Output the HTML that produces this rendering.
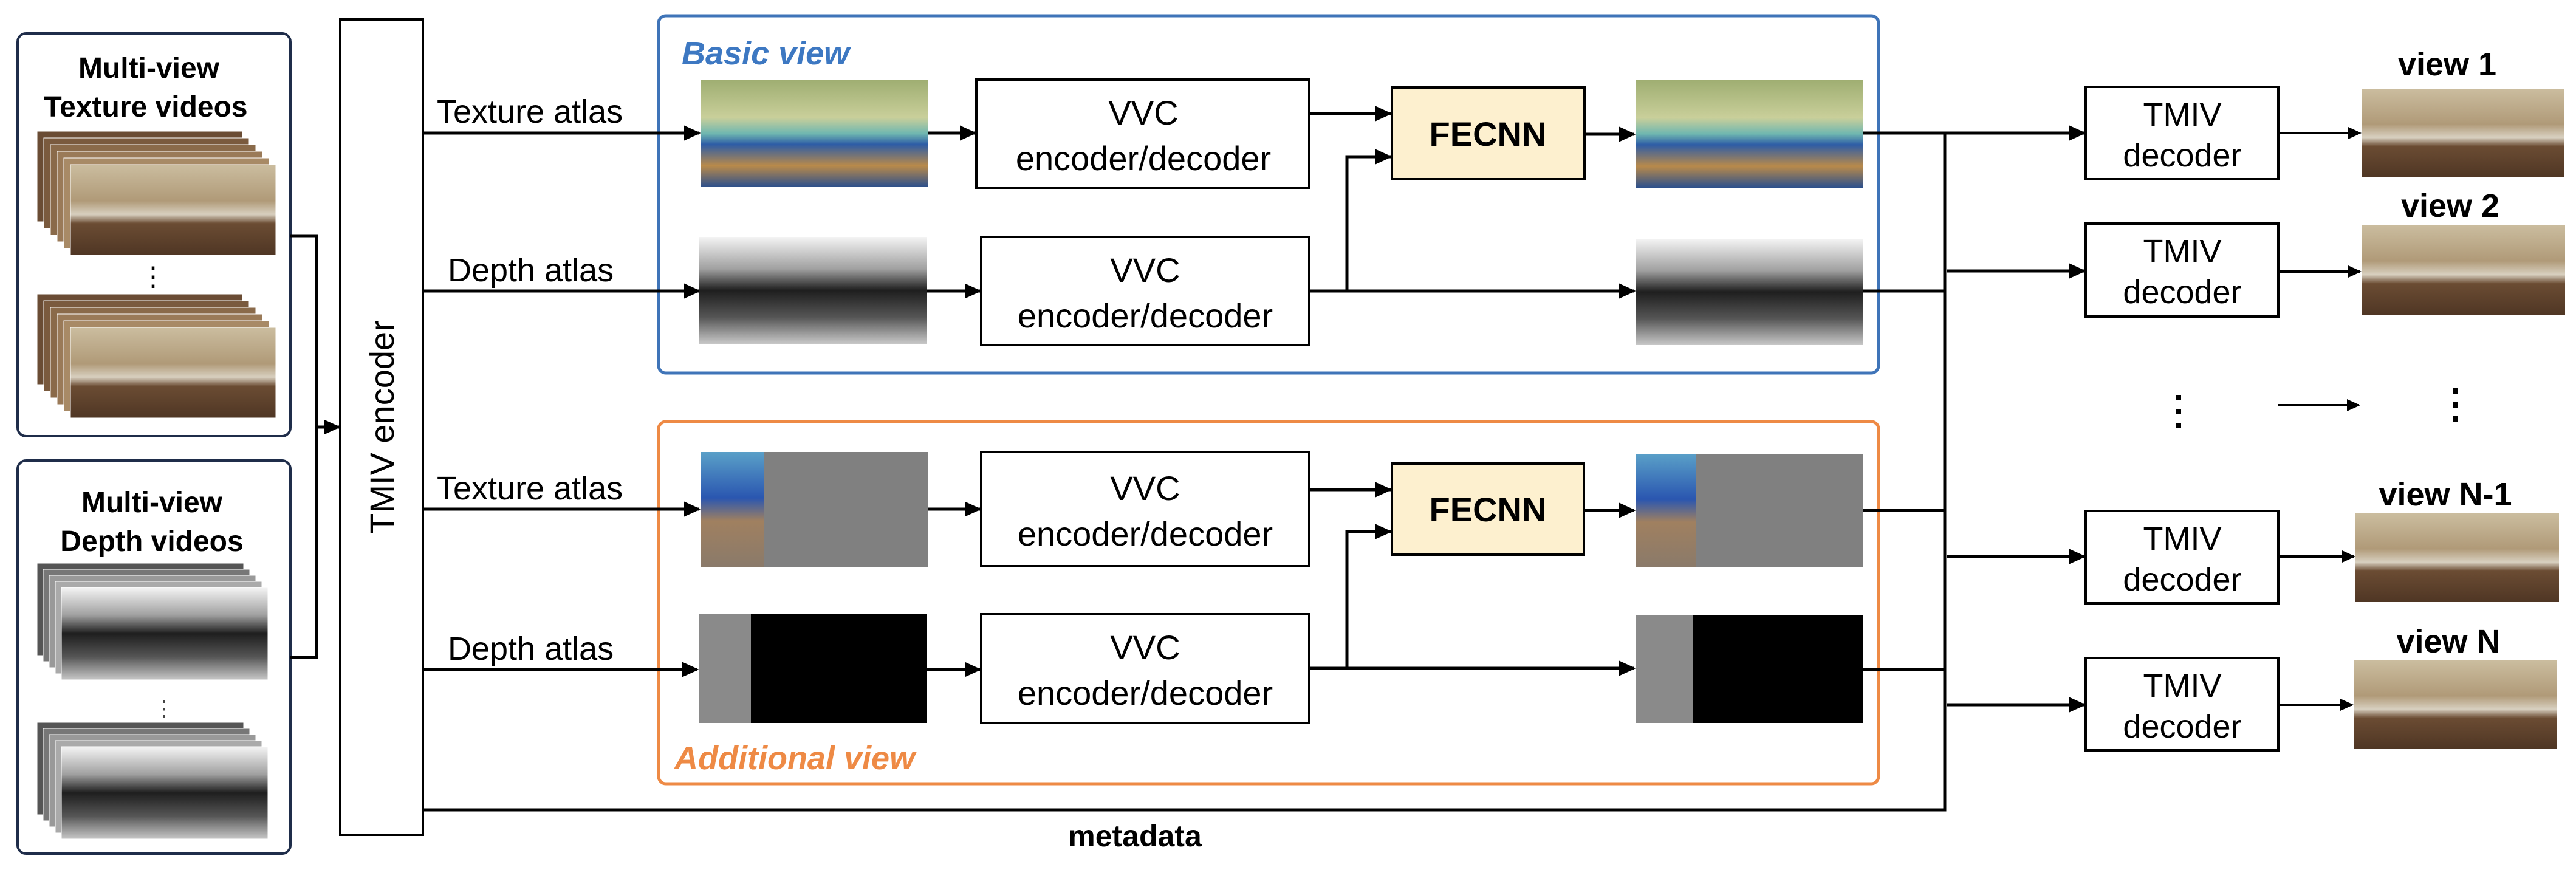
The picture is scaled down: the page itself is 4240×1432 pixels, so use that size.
<!DOCTYPE html>
<html><head><meta charset="utf-8"><style>
html,body{margin:0;padding:0;background:#fff;}
svg{display:block;}
text{font-family:"Liberation Sans",Arial,sans-serif;}
</style></head><body>
<svg width="4240" height="1432" viewBox="0 0 4240 1432" xmlns="http://www.w3.org/2000/svg">
<defs>
<marker id="ah" markerWidth="5.5" markerHeight="5" refX="5" refY="2.5" orient="auto" markerUnits="strokeWidth">
<path d="M0,0 L5.5,2.5 L0,5 z" fill="#000"/></marker>
<linearGradient id="room" x1="0" y1="0" x2="0" y2="1">
<stop offset="0" stop-color="#cbbd9f"/><stop offset="0.4" stop-color="#b09a78"/><stop offset="0.55" stop-color="#d8d0c0"/><stop offset="0.65" stop-color="#6b4c33"/><stop offset="1" stop-color="#4f3624"/></linearGradient>
<linearGradient id="btex" x1="0" y1="0" x2="0" y2="1">
<stop offset="0" stop-color="#9fae72"/><stop offset="0.35" stop-color="#c9cf9a"/><stop offset="0.5" stop-color="#6fb7b0"/><stop offset="0.6" stop-color="#2d5ca6"/><stop offset="0.8" stop-color="#b98a4a"/><stop offset="1" stop-color="#2b4f8c"/></linearGradient>
<linearGradient id="dep" x1="0" y1="0" x2="0" y2="1">
<stop offset="0" stop-color="#f4f4f4"/><stop offset="0.3" stop-color="#a0a0a0"/><stop offset="0.5" stop-color="#1e1e1e"/><stop offset="0.75" stop-color="#555"/><stop offset="1" stop-color="#c8c8c8"/></linearGradient>
<linearGradient id="strip" x1="0" y1="0" x2="0" y2="1">
<stop offset="0" stop-color="#5aa0c8"/><stop offset="0.4" stop-color="#2a56b0"/><stop offset="0.6" stop-color="#a08060"/><stop offset="1" stop-color="#8a7a6a"/></linearGradient>
</defs>

<rect x="29" y="55" width="449" height="663" rx="14" fill="none" stroke="#1f2d4a" stroke-width="4"/>
<text x="245" y="128" font-size="48" font-weight="bold" text-anchor="middle">Multi-view</text>
<text x="240" y="192" font-size="48" font-weight="bold" text-anchor="middle">Texture videos</text>
<g stroke="#fff" stroke-width="1">
<rect x="61" y="216" width="338" height="149" fill="#6a4c34"/>
<rect x="72" y="227" width="338" height="149" fill="#7a5a3e"/>
<rect x="83" y="238" width="338" height="149" fill="#8a6a4a"/>
<rect x="94" y="249" width="338" height="149" fill="#9a7a58"/>
<rect x="105" y="260" width="338" height="149" fill="#a88a66"/>
<rect x="116" y="271" width="338" height="149" fill="url(#room)"/>
<rect x="61" y="484" width="338" height="149" fill="#6a4c34"/>
<rect x="72" y="495" width="338" height="149" fill="#7a5a3e"/>
<rect x="83" y="506" width="338" height="149" fill="#8a6a4a"/>
<rect x="94" y="517" width="338" height="149" fill="#9a7a58"/>
<rect x="105" y="528" width="338" height="149" fill="#a88a66"/>
<rect x="116" y="539" width="338" height="149" fill="url(#room)"/>
</g>
<text x="252" y="470" font-size="44" text-anchor="middle">⋮</text>

<rect x="29" y="758" width="449" height="647" rx="14" fill="none" stroke="#1f2d4a" stroke-width="4"/>
<text x="250" y="843" font-size="48" font-weight="bold" text-anchor="middle">Multi-view</text>
<text x="250" y="907" font-size="48" font-weight="bold" text-anchor="middle">Depth videos</text>
<g stroke="#fff" stroke-width="1">
<rect x="61" y="927" width="340" height="152" fill="#555"/>
<rect x="71" y="937" width="340" height="152" fill="#777"/>
<rect x="81" y="947" width="340" height="152" fill="#999"/>
<rect x="91" y="957" width="340" height="152" fill="#aaa"/>
<rect x="101" y="967" width="340" height="152" fill="url(#dep)"/>
<rect x="61" y="1189" width="340" height="152" fill="#555"/>
<rect x="71" y="1199" width="340" height="152" fill="#777"/>
<rect x="81" y="1209" width="340" height="152" fill="#999"/>
<rect x="91" y="1219" width="340" height="152" fill="#aaa"/>
<rect x="101" y="1229" width="340" height="152" fill="url(#dep)"/>
</g>
<text x="270" y="1178" font-size="36" text-anchor="middle" fill="#444">⋮</text>

<g stroke="#000" stroke-width="5" fill="none">
<polyline points="478,388 521,388 521,1082 478,1082"/>
<line x1="521" y1="703" x2="558" y2="703" marker-end="url(#ah)"/>
</g>
<rect x="560" y="32" width="136" height="1342" fill="#fff" stroke="#000" stroke-width="4"/>
<text transform="translate(648,703) rotate(-90)" font-size="56" text-anchor="middle">TMIV encoder</text>

<rect x="1084" y="26" width="2008" height="588" rx="12" fill="none" stroke="#3f74b8" stroke-width="5"/>
<text x="1122" y="106" font-size="54" font-weight="bold" font-style="italic" fill="#3d78c2">Basic view</text>
<rect x="1084" y="694" width="2008" height="596" rx="12" fill="none" stroke="#ee8a45" stroke-width="5"/>
<text x="1110" y="1266" font-size="54" font-weight="bold" font-style="italic" fill="#ee8a45">Additional view</text>

<g font-size="54">
<text x="719" y="202">Texture atlas</text>
<text x="737" y="463">Depth atlas</text>
<text x="719" y="822">Texture atlas</text>
<text x="737" y="1086">Depth atlas</text>
</g>
<g stroke="#000" stroke-width="5" fill="none">
<line x1="696" y1="219" x2="1151" y2="219" marker-end="url(#ah)"/>
<line x1="696" y1="479" x2="1151" y2="479" marker-end="url(#ah)"/>
<line x1="696" y1="838" x2="1151" y2="838" marker-end="url(#ah)"/>
<line x1="696" y1="1102" x2="1148" y2="1102" marker-end="url(#ah)"/>
<polyline points="696,1333 3201,1333 3201,219 3066,219"/>
</g>

<rect x="1153" y="132" width="375" height="176" fill="url(#btex)"/>
<rect x="1151" y="390" width="375" height="176" fill="url(#dep)"/>
<rect x="1153" y="744" width="375" height="189" fill="#808080"/>
<rect x="1153" y="744" width="105" height="189" fill="url(#strip)"/>
<rect x="1151" y="1011" width="375" height="179" fill="#000"/>
<rect x="1151" y="1011" width="85" height="179" fill="#8a8a8a"/>

<g stroke="#000" stroke-width="5" fill="none">
<line x1="1528" y1="219" x2="1605" y2="219" marker-end="url(#ah)"/>
<line x1="1526" y1="479" x2="1613" y2="479" marker-end="url(#ah)"/>
<line x1="1528" y1="838" x2="1613" y2="838" marker-end="url(#ah)"/>
<line x1="1526" y1="1102" x2="1613" y2="1102" marker-end="url(#ah)"/>
</g>

<g fill="#fff" stroke="#000" stroke-width="4">
<rect x="1607" y="131" width="548" height="178"/>
<rect x="1615" y="390" width="540" height="178"/>
<rect x="1615" y="744" width="540" height="188"/>
<rect x="1615" y="1011" width="540" height="179"/>
</g>
<g font-size="56" text-anchor="middle">
<text x="1882" y="205">VVC</text><text x="1882" y="280">encoder/decoder</text>
<text x="1885" y="464">VVC</text><text x="1885" y="539">encoder/decoder</text>
<text x="1885" y="823">VVC</text><text x="1885" y="898">encoder/decoder</text>
<text x="1885" y="1085">VVC</text><text x="1885" y="1160">encoder/decoder</text>
</g>

<rect x="2291" y="144" width="317" height="151" fill="#fdf0cf" stroke="#000" stroke-width="4"/>
<rect x="2291" y="763" width="316" height="150" fill="#fdf0cf" stroke="#000" stroke-width="4"/>
<g font-size="56" font-weight="bold" text-anchor="middle">
<text x="2449" y="240">FECNN</text>
<text x="2449" y="858">FECNN</text>
</g>

<g stroke="#000" stroke-width="5" fill="none">
<line x1="2155" y1="187" x2="2289" y2="187" marker-end="url(#ah)"/>
<polyline points="2155,479 2217,479 2217,258 2289,258" marker-end="url(#ah)"/>
<line x1="2217" y1="479" x2="2690" y2="479" marker-end="url(#ah)"/>
<line x1="2608" y1="221" x2="2690" y2="221" marker-end="url(#ah)"/>
<line x1="2155" y1="806" x2="2289" y2="806" marker-end="url(#ah)"/>
<polyline points="2155,1100 2217,1100 2217,875 2289,875" marker-end="url(#ah)"/>
<line x1="2217" y1="1100" x2="2690" y2="1100" marker-end="url(#ah)"/>
<line x1="2607" y1="840" x2="2690" y2="840" marker-end="url(#ah)"/>
</g>

<rect x="2692" y="132" width="374" height="177" fill="url(#btex)"/>
<rect x="2692" y="393" width="374" height="175" fill="url(#dep)"/>
<rect x="2692" y="747" width="374" height="187" fill="#808080"/>
<rect x="2692" y="747" width="100" height="187" fill="url(#strip)"/>
<rect x="2692" y="1012" width="374" height="178" fill="#000"/>
<rect x="2692" y="1012" width="95" height="178" fill="#8a8a8a"/>

<g stroke="#000" stroke-width="5" fill="none">
<line x1="3066" y1="479" x2="3201" y2="479"/>
<line x1="3066" y1="840" x2="3201" y2="840"/>
<line x1="3066" y1="1102" x2="3201" y2="1102"/>
<line x1="3201" y1="219" x2="3431" y2="219" marker-end="url(#ah)"/>
<line x1="3205" y1="446" x2="3431" y2="446" marker-end="url(#ah)"/>
<line x1="3205" y1="916" x2="3431" y2="916" marker-end="url(#ah)"/>
<line x1="3205" y1="1160" x2="3431" y2="1160" marker-end="url(#ah)"/>
</g>
<text x="1868" y="1393" font-size="50" font-weight="bold" text-anchor="middle">metadata</text>

<g fill="#fff" stroke="#000" stroke-width="4">
<rect x="3433" y="143" width="317" height="152"/>
<rect x="3433" y="368" width="317" height="153"/>
<rect x="3433" y="841" width="317" height="152"/>
<rect x="3433" y="1083" width="317" height="152"/>
</g>
<g font-size="54" text-anchor="middle">
<text x="3592" y="207">TMIV</text><text x="3592" y="274">decoder</text>
<text x="3592" y="432">TMIV</text><text x="3592" y="499">decoder</text>
<text x="3592" y="905">TMIV</text><text x="3592" y="972">decoder</text>
<text x="3592" y="1147">TMIV</text><text x="3592" y="1214">decoder</text>
</g>
<g stroke="#000" stroke-width="4" fill="none">
<line x1="3750" y1="219" x2="3885" y2="219" marker-end="url(#ah)"/>
<line x1="3750" y1="447" x2="3885" y2="447" marker-end="url(#ah)"/>
<line x1="3750" y1="916" x2="3875" y2="916" marker-end="url(#ah)"/>
<line x1="3750" y1="1160" x2="3872" y2="1160" marker-end="url(#ah)"/>
<line x1="3749" y1="667" x2="3883" y2="667" marker-end="url(#ah)"/>
</g>
<g fill="#000">
<rect x="3582" y="650" width="8" height="9"/><rect x="3582" y="673" width="8" height="9"/><rect x="3582" y="696" width="8" height="9"/>
<rect x="4037" y="639" width="8" height="9"/><rect x="4037" y="662" width="8" height="9"/><rect x="4037" y="685" width="8" height="9"/>
</g>

<rect x="3887" y="146" width="333" height="146" fill="url(#room)"/>
<rect x="3887" y="370" width="335" height="149" fill="url(#room)"/>
<rect x="3877" y="845" width="335" height="146" fill="url(#room)"/>
<rect x="3874" y="1087" width="335" height="146" fill="url(#room)"/>
<g font-size="54" font-weight="bold" text-anchor="middle">
<text x="4028" y="124">view 1</text>
<text x="4033" y="357">view 2</text>
<text x="4025" y="832">view N-1</text>
<text x="4030" y="1074">view N</text>
</g>
</svg>
</body></html>
